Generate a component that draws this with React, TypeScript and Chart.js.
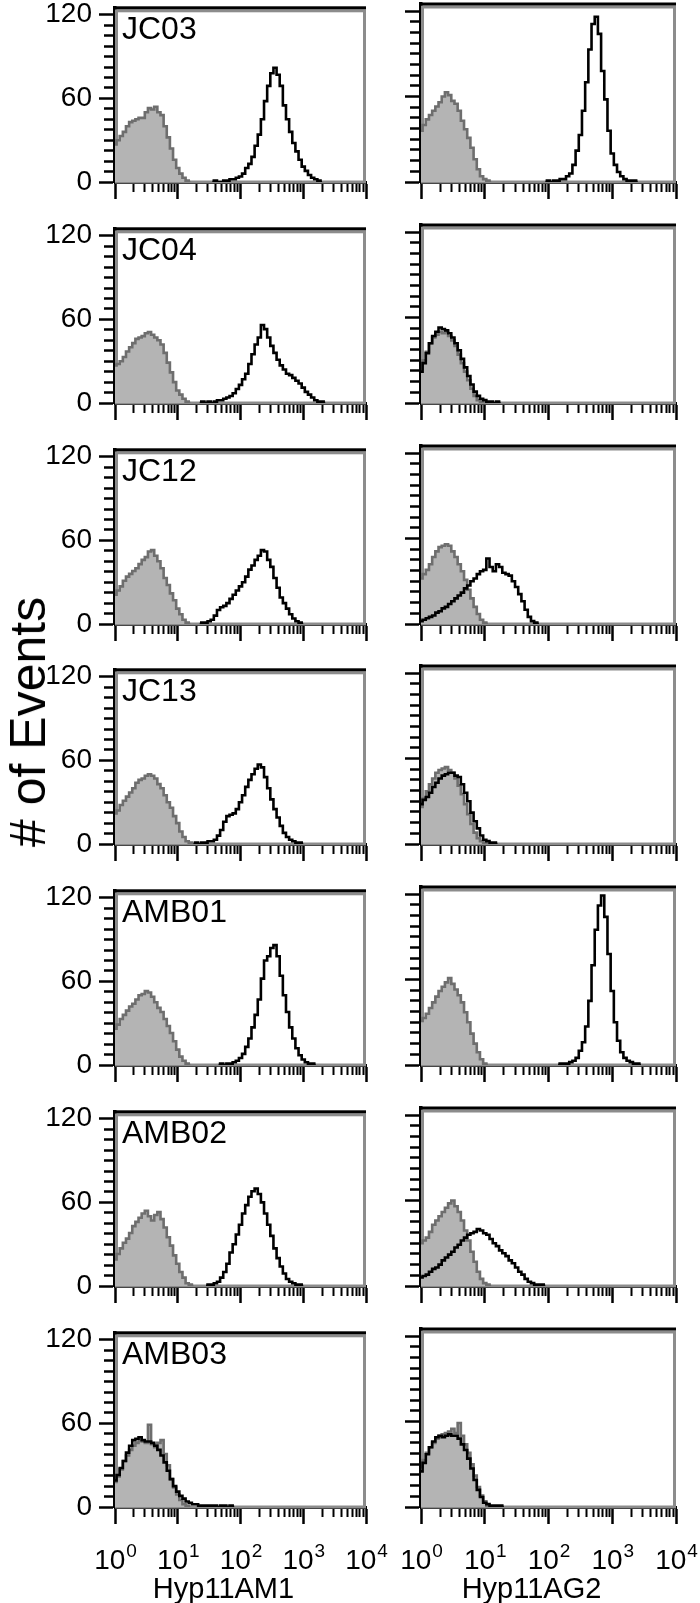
import React, { useEffect, useRef } from "react";
import { Chart, registerables } from "chart.js";

Chart.register(...registerables);

const FONT = '"Liberation Sans", Arial, Helvetica, sans-serif';

// ---------- axes / labels ----------
const channelsPerDecade = 20; // histogram channels per decade, 10^0 .. 10^4
const channelCount = 4 * channelsPerDecade + 1;
const decadeTicks = [1, 10, 100, 1000, 10000];
const decadeExponents = ["0", "1", "2", "3", "4"];
const minorMultipliers = [2, 3, 4, 5, 6, 7, 8, 9];
const yTicks = [0, 7.5, 15, 22.5, 30, 37.5, 45, 52.5, 60, 67.5, 75, 82.5, 90, 97.5, 105, 112.5, 120];
const yLabelledTicks = [0, 60, 120];
const yMax = 125;

const cloneNames = ["JC03", "JC04", "JC12", "JC13", "AMB01", "AMB02", "AMB03"];
const antigenNames = ["Hyp11AM1", "Hyp11AG2"];
const yAxisTitle = "# of Events";

// ---------- histogram counts (control = grey filled, stained = black line) ----------
const jc03Am1Ctrl = [27, 30, 33, 36, 40, 43, 44, 45, 46, 46, 50, 53, 52, 54, 50, 48, 40, 32, 24, 16, 10, 6, 3, 1];
const jc03Am1Stain = [1, 0, 0, 1, 1, 2, 2, 3, 4, 6, 10, 13, 18, 26, 34, 45, 58, 69, 78, 82, 77, 69, 55, 45, 36, 28, 22, 16, 11, 8, 5, 3, 2, 1];
const jc03Ag2Ctrl = [36, 40, 44, 47, 50, 53, 56, 60, 63, 61, 57, 55, 50, 43, 37, 31, 24, 16, 9, 4, 2, 1];
const jc03Ag2Stain = [1, 0, 1, 1, 2, 2, 4, 6, 12, 22, 33, 50, 70, 93, 111, 116, 104, 78, 58, 36, 20, 12, 7, 4, 2, 1, 1, 1];

const jc04Am1Ctrl = [27, 28, 30, 33, 37, 40, 43, 46, 47, 48, 50, 51, 49, 47, 45, 42, 36, 29, 22, 15, 9, 6, 3, 1];
const jc04Am1Stain = [1, 0, 1, 0, 1, 2, 2, 3, 4, 5, 7, 10, 13, 17, 21, 28, 35, 42, 47, 56, 53, 47, 41, 36, 31, 27, 24, 21, 20, 18, 16, 14, 11, 8, 6, 4, 2, 1, 1];
const jc04Ag2Ctrl = [24, 30, 36, 42, 46, 48, 50, 49, 50, 47, 44, 40, 34, 28, 22, 16, 10, 5, 2, 1];
const jc04Ag2Stain = [22, 28, 35, 42, 47, 50, 53, 52, 51, 49, 46, 42, 37, 31, 25, 19, 13, 8, 5, 3, 2, 1, 1, 0, 1];

const jc12Am1Ctrl = [21, 24, 27, 31, 34, 36, 38, 40, 43, 46, 48, 52, 53, 49, 45, 40, 33, 28, 22, 17, 11, 7, 3, 1];
const jc12Am1Stain = [1, 1, 2, 3, 6, 10, 12, 13, 15, 18, 21, 24, 27, 30, 34, 39, 42, 46, 49, 53, 52, 46, 41, 33, 26, 19, 15, 11, 7, 4, 2, 1];
const jc12Ag2Ctrl = [32, 35, 38, 42, 47, 51, 54, 55, 56, 55, 51, 47, 42, 37, 31, 24, 18, 12, 7, 3, 1];
const jc12Ag2Stain = [2, 3, 4, 5, 6, 8, 9, 11, 12, 14, 16, 18, 20, 22, 25, 27, 30, 32, 35, 37, 38, 46, 40, 37, 42, 40, 36, 35, 34, 30, 26, 21, 16, 10, 5, 2, 1];

const jc13Am1Ctrl = [22, 24, 28, 31, 34, 37, 40, 44, 46, 47, 49, 50, 49, 47, 43, 40, 35, 30, 26, 20, 15, 9, 5, 2, 1];
const jc13Am1Stain = [1, 0, 1, 1, 2, 2, 3, 6, 10, 16, 20, 21, 22, 25, 30, 35, 41, 46, 50, 54, 57, 55, 48, 40, 32, 25, 19, 13, 8, 5, 3, 2, 1, 1];
const jc13Ag2Ctrl = [26, 32, 37, 42, 46, 50, 52, 53, 54, 52, 50, 46, 41, 35, 28, 21, 14, 8, 4, 2, 1];
const jc13Ag2Stain = [28, 31, 33, 36, 40, 43, 46, 48, 49, 50, 50, 48, 47, 42, 36, 30, 22, 16, 11, 6, 3, 2, 1, 1];

const amb01Am1Ctrl = [26, 29, 33, 36, 39, 42, 44, 47, 50, 51, 53, 52, 49, 45, 41, 38, 33, 28, 23, 17, 11, 6, 3, 1];
const amb01Am1Stain = [1, 0, 1, 1, 2, 3, 5, 8, 13, 19, 27, 36, 47, 62, 75, 78, 84, 86, 78, 64, 50, 38, 27, 19, 12, 7, 4, 2, 1, 1];
const amb01Ag2Ctrl = [31, 33, 36, 40, 44, 48, 52, 55, 58, 61, 57, 53, 49, 44, 37, 30, 22, 15, 9, 4, 1];
const amb01Ag2Stain = [1, 1, 1, 2, 3, 5, 10, 16, 27, 45, 70, 95, 112, 119, 104, 78, 52, 30, 17, 9, 5, 3, 2, 1, 1];

const amb02Am1Ctrl = [19, 23, 27, 31, 34, 38, 43, 46, 49, 52, 54, 50, 47, 51, 53, 48, 42, 35, 29, 22, 16, 10, 6, 2, 1];
const amb02Am1Stain = [1, 1, 2, 3, 6, 10, 16, 24, 30, 37, 44, 52, 58, 64, 68, 70, 66, 60, 52, 44, 36, 27, 20, 14, 9, 5, 3, 2, 1, 1];
const amb02Ag2Ctrl = [30, 32, 34, 38, 43, 46, 49, 52, 55, 58, 60, 56, 52, 46, 39, 32, 24, 17, 10, 5, 2, 1];
const amb02Ag2Stain = [6, 7, 8, 10, 12, 13, 15, 18, 20, 22, 24, 27, 29, 32, 34, 36, 37, 38, 40, 39, 37, 36, 33, 30, 28, 25, 23, 21, 18, 16, 13, 10, 8, 5, 3, 2, 1, 1, 1];

const amb03Am1Ctrl = [18, 22, 27, 33, 37, 41, 44, 46, 48, 47, 46, 59, 45, 43, 46, 48, 38, 30, 20, 14, 9, 5, 2, 1];
const amb03Am1Stain = [19, 23, 28, 33, 39, 44, 48, 49, 50, 48, 47, 47, 46, 44, 41, 37, 32, 26, 20, 15, 11, 8, 6, 4, 3, 2, 2, 1, 1, 1, 1, 1, 1, 0, 1, 1, 0, 1];
const amb03Ag2Ctrl = [28, 33, 38, 42, 45, 48, 50, 51, 52, 53, 55, 52, 59, 50, 44, 38, 30, 22, 14, 8, 4, 1];
const amb03Ag2Stain = [25, 31, 37, 42, 46, 49, 50, 49, 50, 51, 50, 50, 48, 44, 40, 34, 27, 19, 12, 7, 3, 2, 1, 1, 1, 1];

// rows = clones, cols = antigens
const controlSeries = [
  [jc03Am1Ctrl, jc03Ag2Ctrl],
  [jc04Am1Ctrl, jc04Ag2Ctrl],
  [jc12Am1Ctrl, jc12Ag2Ctrl],
  [jc13Am1Ctrl, jc13Ag2Ctrl],
  [amb01Am1Ctrl, amb01Ag2Ctrl],
  [amb02Am1Ctrl, amb02Ag2Ctrl],
  [amb03Am1Ctrl, amb03Ag2Ctrl],
];
const stainedSeries = [
  [jc03Am1Stain, jc03Ag2Stain],
  [jc04Am1Stain, jc04Ag2Stain],
  [jc12Am1Stain, jc12Ag2Stain],
  [jc13Am1Stain, jc13Ag2Stain],
  [amb01Am1Stain, amb01Ag2Stain],
  [amb02Am1Stain, amb02Ag2Stain],
  [amb03Am1Stain, amb03Ag2Stain],
];
// first channel index of each stained series
const stainedStart = [
  [32, 40],
  [28, 0],
  [28, 0],
  [26, 0],
  [34, 44],
  [30, 0],
  [0, 0],
];

// ---------- helpers ----------
const channelValues = Array.from({ length: channelCount }, (_, i) => Math.pow(10, i / channelsPerDecade));
const xTicks = decadeTicks.flatMap((d, i) =>
  i < decadeTicks.length - 1 ? [d, ...minorMultipliers.map((m) => d * m)] : [d]
);
const isDecade = (v: number) => decadeTicks.some((d) => Math.abs(d - v) < 1e-6 * d);

function toPoints(values: number[], start: number) {
  const pts: { x: number; y: number }[] = [];
  if (start > 0) pts.push({ x: channelValues[start - 1], y: 0 });
  values.forEach((v, k) => pts.push({ x: channelValues[start + k], y: v }));
  const end = start + values.length;
  if (end < channelCount) pts.push({ x: channelValues[end], y: 0 });
  return pts;
}

const GEOM = {
  plotTop: 4,
  plotHeight: 178,
  rowPitch: 220.8,
  plotLeft: [115, 421],
  plotRight: [366, 676],
  canvasLeft: [0, 385],
  canvasRight: [392, 700],
  padTop: 20,
  xAxisH: 30,
  bottomXAxisH: 97,
};

const TXT = {
  yLabel: 28,
  panel: 32,
  base: 28,
  exp: 19,
  title: 29,
  yTitle: 50,
};

const panelDecor = {
  id: "panelDecor",
  beforeDatasetsDraw(chart: any) {
    const { ctx, chartArea: a } = chart;
    ctx.save();
    ctx.strokeStyle = "#8c8c8c";
    ctx.lineWidth = 3;
    ctx.strokeRect(a.left + 1.5, a.top + 3, a.right - a.left - 3, a.bottom - a.top - 3);
    ctx.restore();
  },
  afterDraw(chart: any, _args: any, opts: any) {
    const { ctx, chartArea: a, width } = chart;
    ctx.save();
    ctx.fillStyle = "#000";
    ctx.fillRect(a.left - 1.5, a.top - 1.5, a.right - a.left + 1.5, 3);
    if (opts.label) {
      ctx.font = `${TXT.panel}px ${FONT}`;
      ctx.textBaseline = "alphabetic";
      ctx.textAlign = "left";
      ctx.fillText(opts.label, a.left + 7, a.top + 31);
    }
    if (opts.title) {
      const xs = chart.scales.x;
      ctx.textBaseline = "alphabetic";
      ctx.textAlign = "left";
      decadeTicks.forEach((d, i) => {
        const px = xs.getPixelForValue(d);
        ctx.font = `${TXT.base}px ${FONT}`;
        const wBase = ctx.measureText("10").width;
        ctx.font = `${TXT.exp}px ${FONT}`;
        const wExp = ctx.measureText(decadeExponents[i]).width;
        let x0 = px - (wBase + wExp) / 2;
        if (x0 + wBase + wExp + 1 > width - 1) x0 = width - 1 - wBase - wExp - 1;
        ctx.font = `${TXT.base}px ${FONT}`;
        ctx.fillText("10", x0, a.bottom + 62);
        ctx.font = `${TXT.exp}px ${FONT}`;
        ctx.fillText(decadeExponents[i], x0 + wBase + 1, a.bottom + 50);
      });
      ctx.font = `${TXT.title}px ${FONT}`;
      ctx.textAlign = "center";
      ctx.fillText(opts.title, (a.left + a.right) / 2 - 17, a.bottom + 91);
    }
    ctx.restore();
  },
};

function Panel({ row, col }: { row: number; col: number }) {
  const ref = useRef<HTMLCanvasElement>(null);
  const isBottom = row === cloneNames.length - 1;
  const plotTop = Math.round(GEOM.plotTop + row * GEOM.rowPitch);
  const top = plotTop - GEOM.padTop;
  const left = GEOM.canvasLeft[col];
  const width = GEOM.canvasRight[col] - left;
  const xAxisH = isBottom ? GEOM.bottomXAxisH : GEOM.xAxisH;
  const height = GEOM.padTop + GEOM.plotHeight + xAxisH;
  const yAxisW = GEOM.plotLeft[col] - left;
  const padRight = GEOM.canvasRight[col] - GEOM.plotRight[col];

  useEffect(() => {
    const chart = new Chart(ref.current as HTMLCanvasElement, {
      type: "line",
      data: {
        datasets: [
          {
            data: toPoints(stainedSeries[row][col], stainedStart[row][col]),
            stepped: "middle",
            fill: false,
            borderColor: "#000000",
            borderWidth: 2.6,
            pointRadius: 0,
            order: 0,
          },
          {
            data: toPoints(controlSeries[row][col], 0),
            stepped: "middle",
            fill: "origin",
            backgroundColor: "#b4b4b4",
            borderColor: "#6e6e6e",
            borderWidth: 2.6,
            pointRadius: 0,
            order: 1,
          },
        ],
      } as any,
      options: {
        animation: false,
        responsive: false,
        maintainAspectRatio: false,
        events: [],
        layout: { padding: { top: GEOM.padTop, right: padRight, left: 0, bottom: 0 } },
        plugins: {
          legend: { display: false },
          tooltip: { enabled: false },
          panelDecor: {
            label: col === 0 ? cloneNames[row] : "",
            title: isBottom ? antigenNames[col] : "",
          },
        } as any,
        scales: {
          x: {
            type: "logarithmic",
            min: 1,
            max: 10000,
            position: "bottom",
            z: 1,
            afterBuildTicks: (s: any) => {
              s.ticks = xTicks.map((v) => ({ value: v }));
            },
            afterFit: (s: any) => {
              s.height = xAxisH;
            },
            grid: {
              drawOnChartArea: false,
              drawTicks: true,
              tickLength: 17,
              tickWidth: (c: any) => (isDecade(c.tick.value) ? 2.5 : 2),
              tickColor: "#000",
              tickBorderDash: (c: any) => (isDecade(c.tick.value) ? [] : [8, 100]),
            },
            border: { display: true, color: "#000", width: 3 },
            ticks: { display: false, autoSkip: false },
          },
          y: {
            type: "linear",
            min: 0,
            max: yMax,
            z: 1,
            afterBuildTicks: (s: any) => {
              s.ticks = yTicks.map((v) => ({ value: v }));
            },
            afterFit: (s: any) => {
              s.width = yAxisW;
            },
            grid: {
              drawOnChartArea: false,
              drawTicks: true,
              tickLength: 16,
              tickWidth: 2.5,
              tickColor: "#000",
              tickBorderDash: (c: any) => (yLabelledTicks.includes(c.tick.value) ? [] : [0, 5, 20, 100]),
            },
            border: { display: true, color: "#000", width: 3.5 },
            ticks: {
              display: col === 0,
              autoSkip: false,
              padding: 7,
              color: "#000",
              font: { family: FONT, size: TXT.yLabel },
              callback: (v: any) => (yLabelledTicks.includes(Number(v)) ? String(v) : ""),
            },
          },
        } as any,
      },
      plugins: [panelDecor as any],
    });
    return () => chart.destroy();
  }, []);

  return (
    <canvas
      ref={ref}
      width={width}
      height={height}
      style={{ position: "absolute", left, top, width, height }}
    />
  );
}

export default function App() {
  return (
    <div
      style={{
        position: "absolute",
        left: 0,
        top: 0,
        width: 700,
        height: 1603,
        overflow: "hidden",
        background: "#fff",
        fontFamily: FONT,
      }}
    >
      {cloneNames.map((_, r) =>
        antigenNames.map((__, c) => <Panel key={`${r}-${c}`} row={r} col={c} />)
      )}
      <div
        style={{
          position: "absolute",
          left: 28,
          top: 722,
          transform: "translate(-50%, -50%) rotate(-90deg)",
          fontSize: TXT.yTitle,
          whiteSpace: "nowrap",
          color: "#000",
          lineHeight: 1,
        }}
      >
        {yAxisTitle}
      </div>
    </div>
  );
}
